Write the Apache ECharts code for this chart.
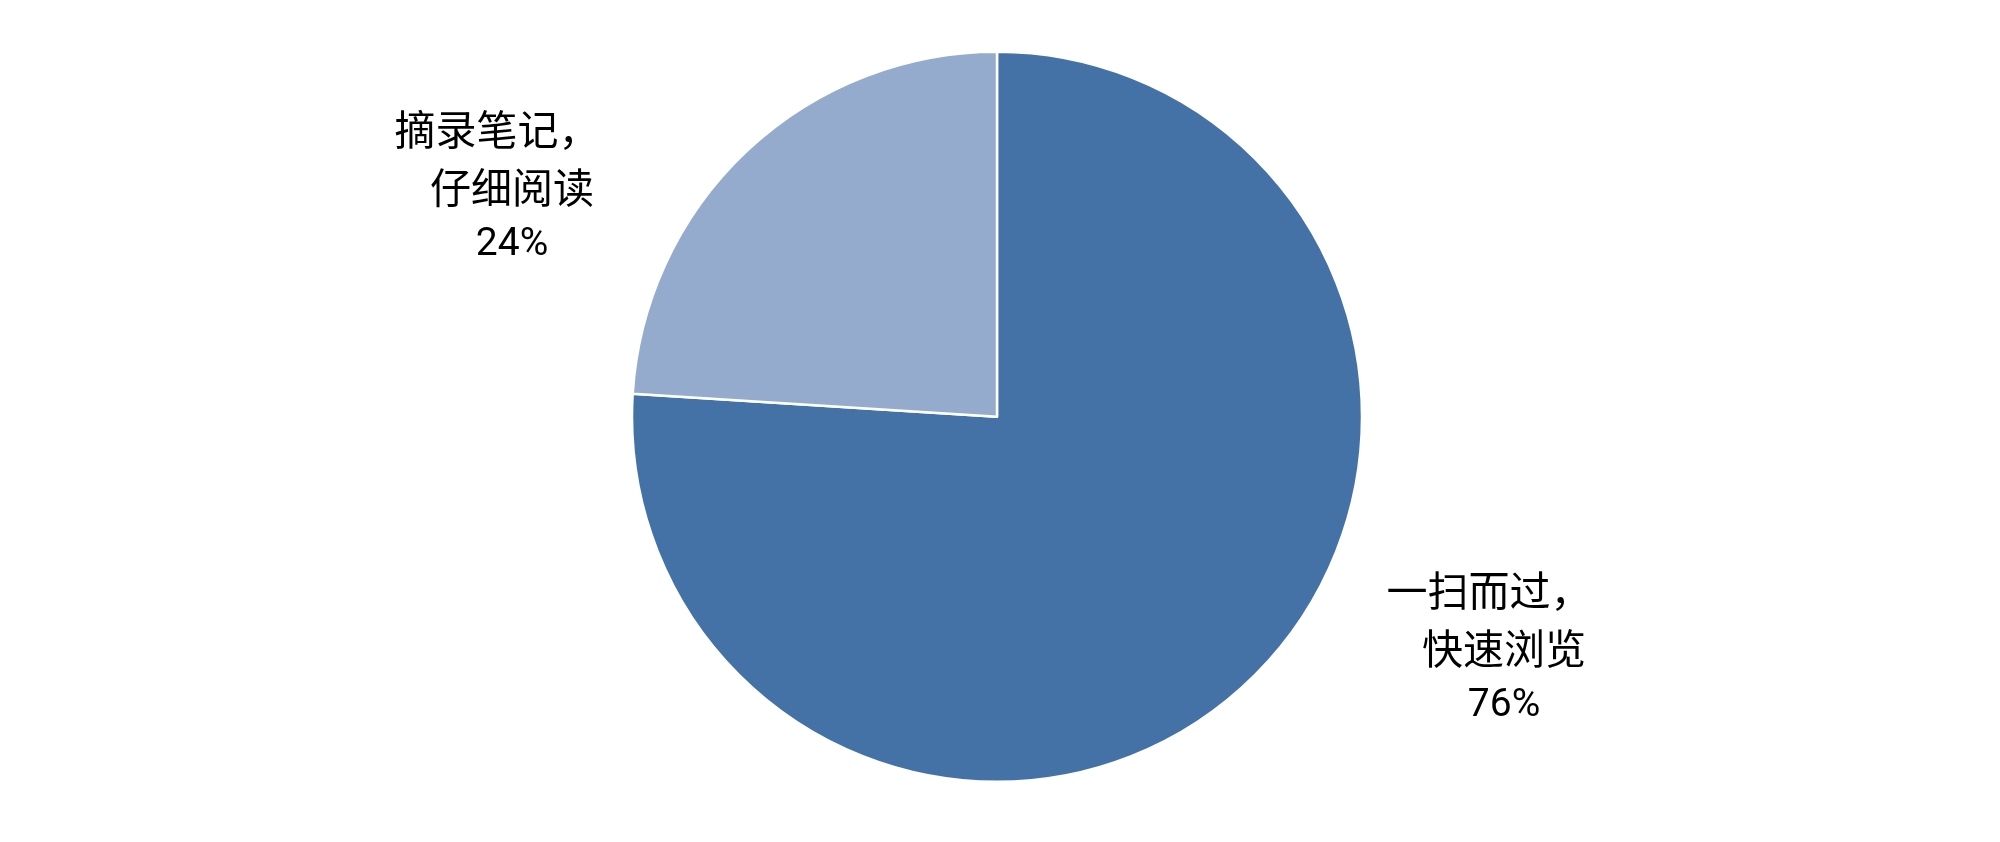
<!DOCTYPE html>
<html>
<head>
<meta charset="utf-8">
<script src="https://cdn.jsdelivr.net/npm/echarts@6/dist/echarts.min.js"></script>
<style>html,body{margin:0;padding:0;background:#fff;}#main{width:2000px;height:842px;}</style>
</head>
<body>
<div id="main"></div>
<script>
const categories = ['一扫而过，\n快速浏览', '摘录笔记，\n仔细阅读'];
const values = [76, 24];
const colors = ['#4472A7', '#94ABCE'];
const labelPos = [['75.2%', '77%'], ['25.6%', '22.2%']];

const chart = echarts.init(document.getElementById('main'), null, {renderer: 'canvas'});
chart.setOption({
  animation: false,
  backgroundColor: '#ffffff',
  series: [{
    type: 'pie',
    center: ['49.85%', '49.5%'],
    radius: '86.7%',
    startAngle: 90,
    clockwise: true,
    data: categories.map((c, i) => ({name: c, value: values[i], itemStyle: {color: colors[i]}})),
    itemStyle: {borderColor: '#ffffff', borderWidth: 2.5},
    labelLine: {show: false},
    label: {
      show: true,
      position: 'outside',
      align: 'center',
      formatter: p => {
        const lines = p.name.split('\n');
        return '{a|' + lines[0] + '}\n{b|' + lines[1] + '}\n{p|' + p.value + '%}';
      },
      rich: {
        a: {fontFamily: 'Noto Sans CJK SC', fontSize: 41, color: '#000', lineHeight: 58, padding: [0, 30, 0, 0]},
        b: {fontFamily: 'Noto Sans CJK SC', fontSize: 41, color: '#000', lineHeight: 58},
        p: {fontFamily: 'Roboto', fontSize: 39, color: '#000', lineHeight: 58}
      }
    },
    labelLayout: params => ({
      x: labelPos[params.dataIndex][0],
      y: labelPos[params.dataIndex][1],
      align: 'center',
      verticalAlign: 'middle'
    })
  }]
});
</script>
</body>
</html>
